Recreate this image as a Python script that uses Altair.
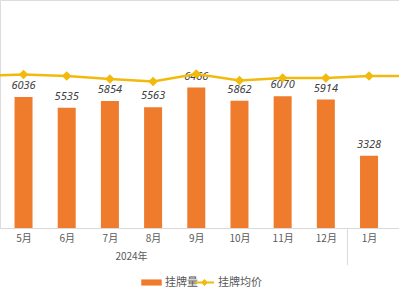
import altair as alt
import pandas as pd

# ---- data ----
months = ["5月", "6月", "7月", "8月", "9月", "10月", "11月", "12月", "1月"]
listings = [6036, 5535, 5854, 5563, 6466, 5862, 6070, 5914, 3328]

# average listing price (line continues past both edges of the crop)
price_months = ["4月", "5月", "6月", "7月", "8月", "9月", "10月", "11月", "12月", "1月", "2月"]
avg_price = [10000, 10100, 10000, 9800, 9640, 10130, 9700, 9870, 9870, 10000, 10000]

year_labels = ["2024年"]
year_first_month_idx = [-1]   # 2024 group starts at 3月 (off-screen)
year_last_month_idx = [8]     # ...and ends at 12月

ORANGE = "#EF7B2D"
GOLD = "#F2BA0C"
FONT = "Noto Sans CJK SC"

bars_df = pd.DataFrame({"idx": list(range(1, len(months) + 1)), "month": months,
                        "value": listings, "series": "挂牌量"})
line_df = pd.DataFrame({"idx": list(range(0, len(price_months))), "month": price_months,
                        "price": avg_price, "series": "挂牌均价"})
year_df = pd.DataFrame({"label": year_labels,
                        "pos": [(a + b) / 2 for a, b in zip(year_first_month_idx, year_last_month_idx)]})
sep_df = pd.DataFrame({"pos": [b + 0.5 for b in year_last_month_idx]})

label_expr = "[" + ",".join(["''"] + [f"'{m}'" for m in months]) + "][datum.value]"

xscale = alt.Scale(domain=[0.571, 9.578], nice=False, zero=False)
x_axis = alt.Axis(values=list(range(1, len(months) + 1)), labelExpr=label_expr, title=None,
                  ticks=False, grid=False, domainColor="#D9D9D9", domainWidth=1,
                  labelColor="#595959", labelFontSize=10, labelFont=FONT, labelPadding=5,
                  labelFontWeight="normal")

base_bar = alt.Chart(bars_df)

bars = base_bar.mark_bar(size=18, clip=True).encode(
    x=alt.X("idx:Q", scale=xscale, axis=x_axis),
    y=alt.Y("value:Q", scale=alt.Scale(domain=[0, 10500], nice=False), axis=None),
    fill=alt.Fill("series:N", scale=alt.Scale(range=[ORANGE]),
                  legend=alt.Legend(title=None, orient="none", legendX=141, legendY=272,
                                    symbolType="M-1,-0.3H1V0.3H-1Z", symbolSize=420,
                                    symbolStrokeWidth=0, labelFont=FONT, labelFontSize=11,
                                    labelColor="#595959", padding=0, labelOffset=3)),
)

bar_labels = base_bar.mark_text(dy=-8, baseline="alphabetic", fontStyle="italic",
                                font="Noto Sans", fontSize=11, color="#404040").encode(
    x=alt.X("idx:Q", scale=xscale),
    y=alt.Y("value:Q", scale=alt.Scale(domain=[0, 10500], nice=False)),
    text="value:Q",
)

line = alt.Chart(line_df).mark_line(
    clip=True, strokeWidth=2.5,
    point=alt.OverlayMarkDef(shape="diamond", filled=True, fill=GOLD, size=45, clip=True),
).encode(
    x=alt.X("idx:Q", scale=xscale),
    y=alt.Y("price:Q", scale=alt.Scale(domain=[0, 15000], nice=False), axis=None),
    stroke=alt.Stroke("series:N", scale=alt.Scale(range=[GOLD]),
                      legend=alt.Legend(title=None, orient="none", legendX=194, legendY=272,
                                        symbolType="M-1,0L1,0M0,-0.22L0.22,0L0,0.22L-0.22,0Z",
                                        symbolSize=361, symbolStrokeWidth=2,
                                        symbolFillColor=GOLD, labelFont=FONT,
                                        labelFontSize=11, labelColor="#595959",
                                        padding=0, labelOffset=3)),
)

sep = alt.Chart(sep_df).mark_rule(color="#D9D9D9", strokeWidth=1).encode(
    x=alt.X("pos:Q", scale=xscale),
    y=alt.value(228),
    y2=alt.value(265),
)

years = alt.Chart(year_df).mark_text(font=FONT, fontSize=10, color="#595959").encode(
    x=alt.X("pos:Q", scale=xscale),
    y=alt.value(257),
    text="label:N",
)

bar_layer = alt.layer(bars, bar_labels, sep, years)
chart = alt.layer(bar_layer, line).resolve_scale(
    y="independent", fill="independent", stroke="independent"
).properties(
    width=399, height=228,
    autosize=alt.AutoSizeParams(type="none"),
    padding={"left": 0, "top": 0, "right": 0, "bottom": 72},
).configure_view(stroke=None).configure(background="white")

chart.save("out.html", embed_options={"renderer": "svg", "actions": False})
